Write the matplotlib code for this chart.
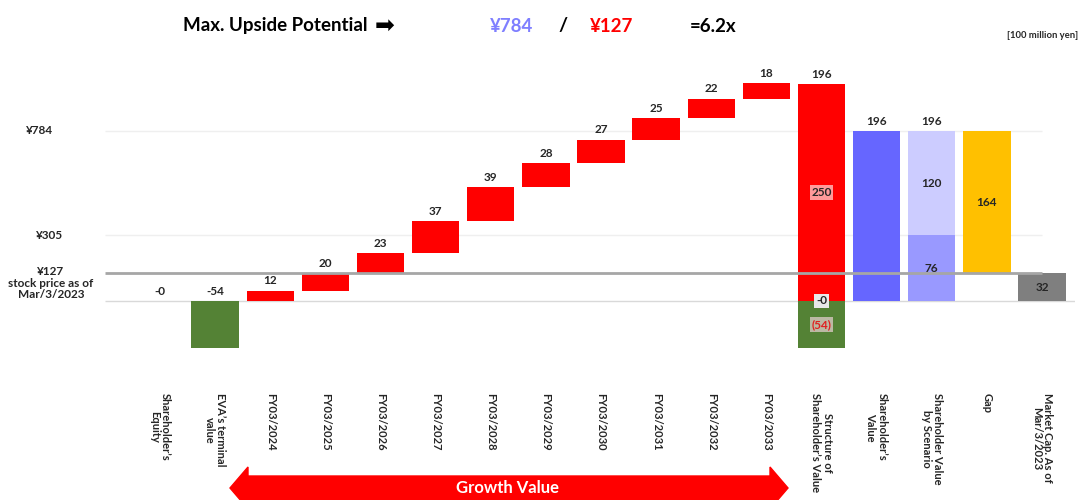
import matplotlib
matplotlib.use("Agg")
import matplotlib.pyplot as plt
import matplotlib.transforms as mtransforms
from matplotlib.patches import Polygon
import numpy as np

# ---------------- data ----------------
categories = ["Shareholder’s\nEquity", "EVA’s terminal\nvalue",
              "FY03/2024", "FY03/2025", "FY03/2026", "FY03/2027", "FY03/2028",
              "FY03/2029", "FY03/2030", "FY03/2031", "FY03/2032", "FY03/2033",
              "Structure of\nShareholder’s Value", "Shareholder’s\nValue",
              "Shareholder Value\nby Scenario", "Gap", "Market Cap. As of\nMar/3/2023"]
equity = -0.3
eva_terminal = -54
growth = [12, 20, 23, 37, 39, 28, 27, 25, 22, 18]
structure_growth = 250
structure_total = 196
shareholder_value = 196
scenario_base = 76
scenario_upper = 120
gap = 164
market_cap = 32
ref_levels = [196, 76, 32]
ref_labels = ["¥784", "¥305", "¥127\nstock price as of\nMar/3/2023"]

# ---------------- style ----------------
FONT = ['Lato', 'DejaVu Sans']
plt.rcParams['font.family'] = FONT
RED = '#ff0000'
GREEN = '#548235'
BLUE = '#6666ff'
BLUE_MID = '#9999ff'
BLUE_LIGHT = '#ccccff'
GOLD = '#ffc000'
GRAY = '#7f7f7f'
TXT = '#262626'

W, H = 1083, 500
fig = plt.figure(figsize=(W / 100, H / 100), dpi=100)
ax_left, ax_right, ax_top, ax_bot = 100, 1075, 60, 360
ax = fig.add_axes([ax_left / W, 1 - ax_bot / H, (ax_right - ax_left) / W, (ax_bot - ax_top) / H])
ppu = 170 / 196.0  # pixels per unit
y0px = 301
ax.set_ylim((y0px - ax_bot) / ppu, (y0px - ax_top) / ppu)
x0px, dx = 160, 55.125
ax.set_xlim((ax_left - x0px) / dx, (ax_right - x0px) / dx)
for s in ax.spines.values():
    s.set_visible(False)
ax.set_yticks([])

x = np.arange(len(categories))
bw = 0.86
lab_kw = dict(ha='center', va='center', fontsize=8.5, fontweight='bold', color=TXT)
off = 11.5

# reference lines
ax.hlines(0, -1.0, 16.6, color='#d9d9d9', lw=1.0, zorder=1)
ax.hlines(ref_levels[0], -1.0, 16.0, color='#efefef', lw=1.0, zorder=1)
ax.hlines(ref_levels[1], -1.0, 16.0, color='#efefef', lw=1.0, zorder=1)
ax.hlines(ref_levels[2], -1.0, 16.0, color='#a6a6a6', lw=2.0, zorder=4)

# equity & EVA terminal
ax.bar(x[0], equity, bw, color='#bfbfbf', zorder=2)
ax.text(x[0], off, "-0", **lab_kw)
ax.bar(x[1], eva_terminal, bw, color=GREEN, zorder=2)
ax.text(x[1], off, f"{eva_terminal}", **lab_kw)

# growth waterfall
bottoms = np.concatenate([[0], np.cumsum(growth)[:-1]])
for i, (g, b) in enumerate(zip(growth, bottoms)):
    ax.bar(x[2 + i], g, bw, bottom=b, color=RED, zorder=2)
    ax.text(x[2 + i], b + g + off, f"{g}", **lab_kw)

# structure of shareholder's value
xs = x[12]
ax.bar(xs, structure_growth, bw, color=RED, zorder=2)
ax.bar(xs, eva_terminal, bw, color=GREEN, zorder=2)
ax.text(xs, structure_growth + off, f"{structure_total}", **lab_kw)
ax.text(xs, structure_growth / 2, f"{structure_growth}",
        bbox=dict(boxstyle='square,pad=0.15', fc='#ff9a9a', ec='none'), **lab_kw)
ax.text(xs, 0, "-0", bbox=dict(boxstyle='square,pad=0.15', fc='#e8e8e8', ec='none'), zorder=5, **lab_kw)
kw54 = dict(lab_kw); kw54['color'] = '#e02020'
ax.text(xs, eva_terminal / 2, f"({-eva_terminal})",
        bbox=dict(boxstyle='square,pad=0.15', fc='#c8c0b0', ec='none', alpha=0.9), **kw54)

# shareholder value
ax.bar(x[13], shareholder_value, bw, color=BLUE, zorder=2)
ax.text(x[13], shareholder_value + off, f"{shareholder_value}", **lab_kw)

# scenario
ax.bar(x[14], scenario_base, bw, color=BLUE_MID, zorder=2)
ax.bar(x[14], scenario_upper, bw, bottom=scenario_base, color=BLUE_LIGHT, zorder=2)
ax.text(x[14], scenario_base + scenario_upper + off, f"{scenario_base + scenario_upper}", **lab_kw)
ax.text(x[14], scenario_base + scenario_upper / 2, f"{scenario_upper}", **lab_kw)
ax.text(x[14], scenario_base / 2, f"{scenario_base}", zorder=5, **lab_kw)

# gap
ax.bar(x[15], gap, bw, bottom=market_cap, color=GOLD, zorder=2)
ax.text(x[15], market_cap + gap / 2, f"{gap}", **lab_kw)

# market cap
ax.bar(x[16], market_cap, bw, color=GRAY, zorder=2)
ax.text(x[16], market_cap / 2, f"{market_cap}", **lab_kw)

# category labels
ax.set_xticks(x)
ax.set_xticklabels(categories, rotation=270, fontsize=8, fontweight='bold', color=TXT,
                   va='top', ha='center', multialignment='center', linespacing=1.05)
ax.tick_params(axis='x', length=0, pad=24)

# left reference labels
for lvl, lab in zip(ref_levels, ref_labels):
    ypx = y0px - lvl * ppu
    xc = 40 if lvl == ref_levels[0] else 50
    if lvl == ref_levels[2]:
        fig.text(51 / W, 1 - (ypx - 7) / H, lab, ha='center', va='top', fontsize=8.5,
                 fontweight='bold', color=TXT, linespacing=1.05)
    else:
        fig.text(xc / W, 1 - ypx / H, lab, ha='center', va='center', fontsize=8.5,
                 fontweight='bold', color=TXT)

# title
fig.text(183 / W, 1 - 26 / H, "Max. Upside Potential", ha='left', va='center',
         fontsize=13.5, fontweight='bold', color='black')
fig.text(385 / W, 1 - 26 / H, "➡", ha='center', va='center', fontsize=17,
         family='DejaVu Sans', color='black')
fig.text(512 / W, 1 - 26 / H, "¥784", ha='center', va='center', fontsize=13.5,
         fontweight='bold', color='#7f7fff')
fig.text(563 / W, 1 - 26 / H, "/", ha='center', va='center', fontsize=14,
         fontweight='bold', color='black')
fig.text(612 / W, 1 - 26 / H, "¥127", ha='center', va='center', fontsize=13.5,
         fontweight='bold', color=RED)
fig.text(690 / W, 1 - 26 / H, "=6.2x", ha='left', va='center', fontsize=13.5,
         fontweight='bold', color='black')
fig.text(1078 / W, 1 - 36 / H, "[100 million yen]", ha='right', va='center', fontsize=6.8,
         fontweight='bold', color=TXT)

# growth value double arrow (x in data, y in figure fraction)
trans = mtransforms.blended_transform_factory(ax.transData, fig.transFigure)
xl, xr = (230 - x0px) / dx, (788 - x0px) / dx
hl = 18 / dx
yc = 1 - 488 / H
bh = 12 / H
hh = 21 / H
verts = [(xl, yc), (xl + hl, yc + hh), (xl + hl, yc + bh), (xr - hl, yc + bh), (xr - hl, yc + hh),
         (xr, yc), (xr - hl, yc - hh), (xr - hl, yc - bh), (xl + hl, yc - bh), (xl + hl, yc - hh)]
arrow = Polygon(verts, closed=True, transform=trans, color=RED, clip_on=False, zorder=3)
fig.add_artist(arrow)
fig.text(507 / W, yc, "Growth Value", ha='center', va='center', fontsize=12,
         fontweight='bold', color='white', zorder=4)

fig.savefig("out.png", dpi=100)
